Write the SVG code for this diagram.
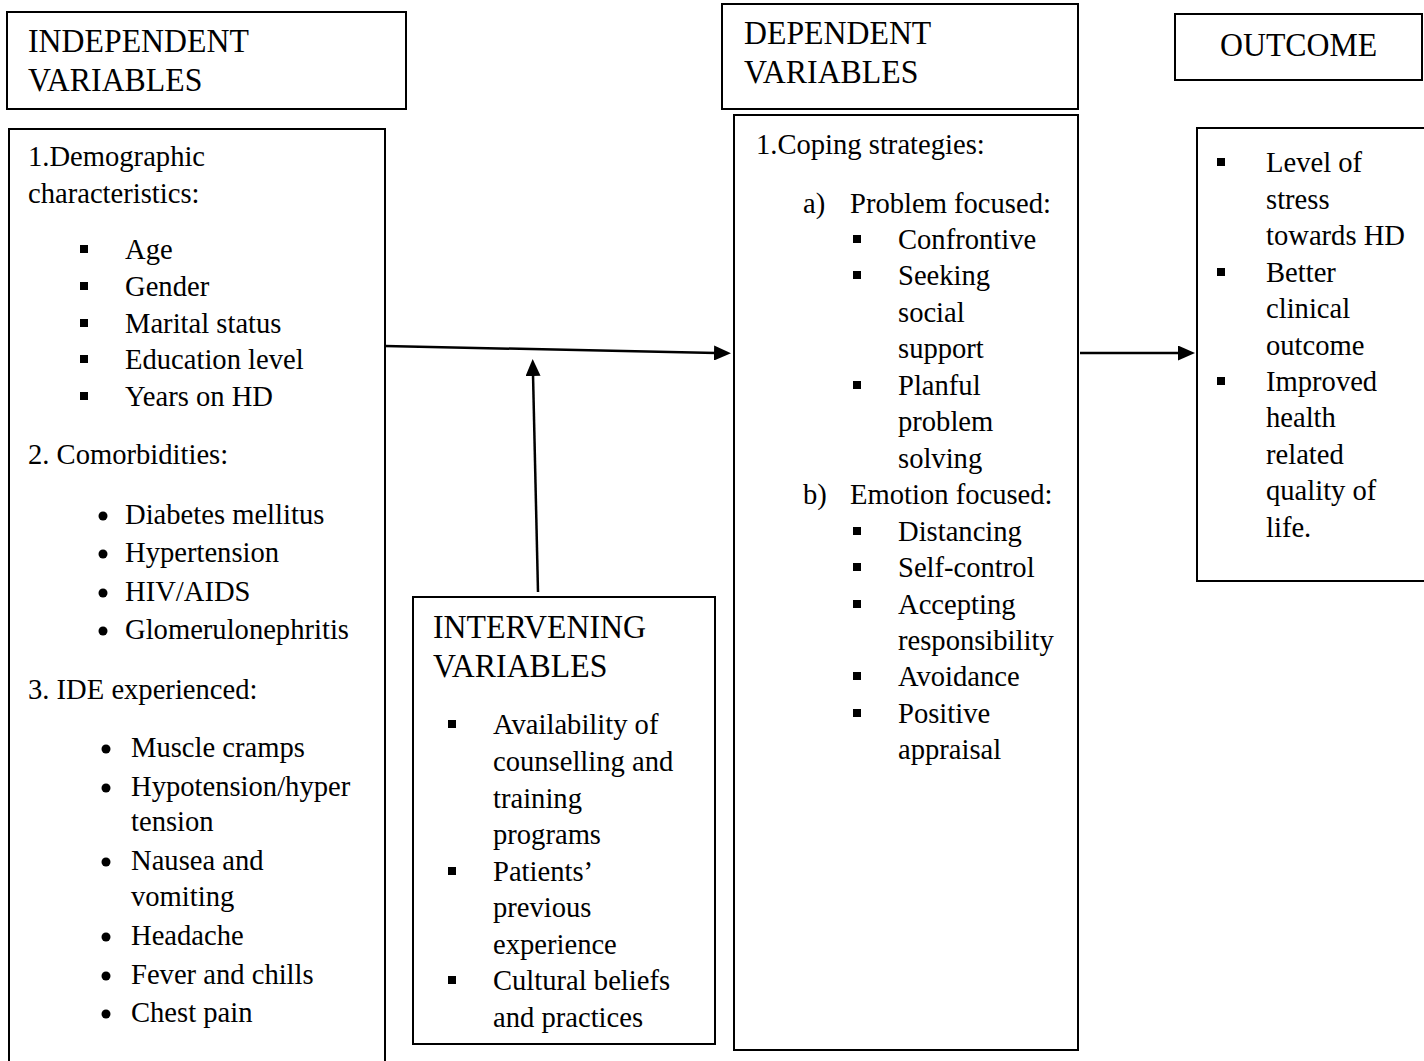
<svg xmlns="http://www.w3.org/2000/svg" width="1424" height="1061" viewBox="0 0 1424 1061">
<style>
.box{fill:#fff;stroke:#000;stroke-width:2}
.hd{font-family:"Liberation Serif","Times New Roman",serif;font-size:33.5px;fill:#000}
.tx{font-family:"Liberation Serif","Times New Roman",serif;font-size:28.6px;fill:#000}
.sq{fill:#000}
.dot{fill:#000}
.conn{stroke:#000;stroke-width:2.5;fill:none}
</style>
<defs>
<marker id="ah" markerWidth="17" markerHeight="15" refX="2" refY="7.5" orient="auto" markerUnits="userSpaceOnUse">
<path d="M0,0 L17,7.5 L0,15 z" fill="#000"/>
</marker>
</defs>
<rect width="1424" height="1061" fill="#fff"/>

<g id="independent-header">
<rect class="box" x="7" y="12" width="399" height="97"/>
<g transform="translate(28,52) scale(0.95,1)"><text class="hd" x="0" y="0">INDEPENDENT</text></g>
<g transform="translate(28,91) scale(0.95,1)"><text class="hd" x="0" y="0">VARIABLES</text></g>
</g>

<g id="independent-body">
<rect class="box" x="9" y="129" width="376" height="940"/>
<g class="sq">
<rect x="80" y="245" width="8" height="8"/>
<rect x="80" y="282" width="8" height="8"/>
<rect x="80" y="319" width="8" height="8"/>
<rect x="80" y="355" width="8" height="8"/>
<rect x="80" y="392" width="8" height="8"/>
</g>
<g class="dot">
<circle cx="103" cy="516" r="4.5"/>
<circle cx="103" cy="554" r="4.5"/>
<circle cx="103" cy="593" r="4.5"/>
<circle cx="103" cy="631" r="4.5"/>
<circle cx="106" cy="749" r="4.5"/>
<circle cx="106" cy="788" r="4.5"/>
<circle cx="106" cy="862" r="4.5"/>
<circle cx="106" cy="937" r="4.5"/>
<circle cx="106" cy="976" r="4.5"/>
<circle cx="106" cy="1014" r="4.5"/>
</g>
<g class="tx">
<text x="28" y="166">1.Demographic</text>
<text x="28" y="203">characteristics:</text>
<text x="125" y="259">Age</text>
<text x="125" y="296">Gender</text>
<text x="125" y="333">Marital status</text>
<text x="125" y="369">Education level</text>
<text x="125" y="406">Years on HD</text>
<text x="28" y="464">2. Comorbidities:</text>
<text x="125" y="524">Diabetes mellitus</text>
<text x="125" y="562">Hypertension</text>
<text x="125" y="601">HIV/AIDS</text>
<text x="125" y="639">Glomerulonephritis</text>
<text x="28" y="699">3. IDE experienced:</text>
<text x="131" y="757">Muscle cramps</text>
<text x="131" y="796">Hypotension/hyper</text>
<text x="131" y="831">tension</text>
<text x="131" y="870">Nausea and</text>
<text x="131" y="906">vomiting</text>
<text x="131" y="945">Headache</text>
<text x="131" y="984">Fever and chills</text>
<text x="131" y="1022">Chest pain</text>
</g>
</g>

<g id="intervening">
<rect class="box" x="413" y="597" width="302" height="447"/>
<g transform="translate(433,638) scale(0.95,1)"><text class="hd" x="0" y="0">INTERVENING</text></g>
<g transform="translate(433,677) scale(0.95,1)"><text class="hd" x="0" y="0">VARIABLES</text></g>
<g class="sq">
<rect x="448" y="720" width="8" height="8"/>
<rect x="448" y="867" width="8" height="8"/>
<rect x="448" y="976" width="8" height="8"/>
</g>
<g class="tx">
<text x="493" y="734">Availability of</text>
<text x="493" y="771">counselling and</text>
<text x="493" y="808">training</text>
<text x="493" y="844">programs</text>
<text x="493" y="881">Patients’</text>
<text x="493" y="917">previous</text>
<text x="493" y="954">experience</text>
<text x="493" y="990">Cultural beliefs</text>
<text x="493" y="1027">and practices</text>
</g>
</g>

<g id="dependent-header">
<rect class="box" x="722" y="4" width="356" height="105"/>
<g transform="translate(744,44) scale(0.95,1)"><text class="hd" x="0" y="0">DEPENDENT</text></g>
<g transform="translate(744,83) scale(0.95,1)"><text class="hd" x="0" y="0">VARIABLES</text></g>
</g>

<g id="dependent-body">
<rect class="box" x="734" y="115" width="344" height="935"/>
<g class="sq">
<rect x="853" y="235" width="8" height="8"/>
<rect x="853" y="271" width="8" height="8"/>
<rect x="853" y="381" width="8" height="8"/>
<rect x="853" y="527" width="8" height="8"/>
<rect x="853" y="563" width="8" height="8"/>
<rect x="853" y="600" width="8" height="8"/>
<rect x="853" y="672" width="8" height="8"/>
<rect x="853" y="709" width="8" height="8"/>
</g>
<g class="tx">
<text x="756" y="154">1.Coping strategies:</text>
<text x="803" y="213">a)</text>
<text x="850" y="213">Problem focused:</text>
<text x="898" y="249">Confrontive</text>
<text x="898" y="285">Seeking</text>
<text x="898" y="322">social</text>
<text x="898" y="358">support</text>
<text x="898" y="395">Planful</text>
<text x="898" y="431">problem</text>
<text x="898" y="468">solving</text>
<text x="803" y="504">b)</text>
<text x="850" y="504">Emotion focused:</text>
<text x="898" y="541">Distancing</text>
<text x="898" y="577">Self-control</text>
<text x="898" y="614">Accepting</text>
<text x="898" y="650">responsibility</text>
<text x="898" y="686">Avoidance</text>
<text x="898" y="723">Positive</text>
<text x="898" y="759">appraisal</text>
</g>
</g>

<g id="outcome-header">
<rect class="box" x="1175" y="14" width="247" height="66"/>
<g transform="translate(1220,56) scale(0.95,1)"><text class="hd" x="0" y="0">OUTCOME</text></g>
</g>

<g id="outcome-body">
<rect class="box" x="1197" y="128" width="240" height="453"/>
<g class="sq">
<rect x="1217" y="158" width="8" height="8"/>
<rect x="1217" y="268" width="8" height="8"/>
<rect x="1217" y="377" width="8" height="8"/>
</g>
<g class="tx">
<text x="1266" y="172">Level of</text>
<text x="1266" y="209">stress</text>
<text x="1266" y="245">towards HD</text>
<text x="1266" y="282">Better</text>
<text x="1266" y="318">clinical</text>
<text x="1266" y="355">outcome</text>
<text x="1266" y="391">Improved</text>
<text x="1266" y="427">health</text>
<text x="1266" y="464">related</text>
<text x="1266" y="500">quality of</text>
<text x="1266" y="537">life.</text>
</g>
</g>

<g id="connectors">
<line class="conn" x1="385" y1="346" x2="716" y2="353" marker-end="url(#ah)"/>
<line class="conn" x1="538" y1="592" x2="533" y2="374" marker-end="url(#ah)"/>
<line class="conn" x1="1080" y1="353" x2="1180" y2="353" marker-end="url(#ah)"/>
</g>
</svg>
